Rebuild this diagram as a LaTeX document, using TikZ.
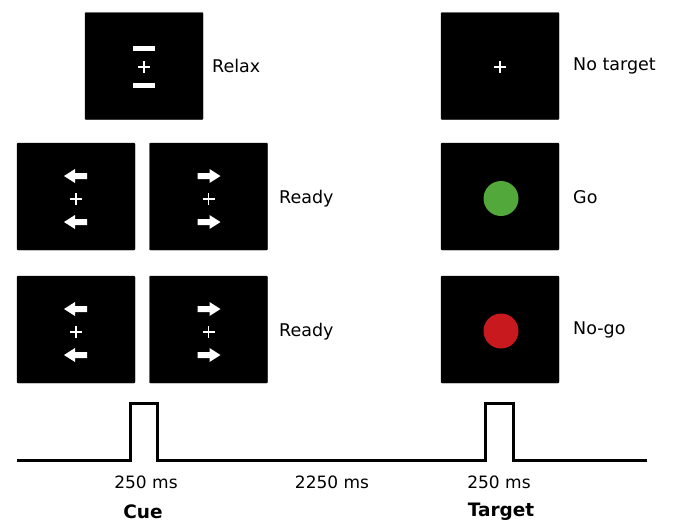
\documentclass[tikz,border=0pt]{standalone}
\usepackage{fontspec}
\setmainfont{DejaVu Sans}
\begin{document}
\begin{tikzpicture}[x=1pt,y=-1pt,
  screen/.style={fill=black,draw=black,rounded corners=1pt,minimum width=118pt,minimum height=107pt,inner sep=0pt},
  lbl/.style={anchor=west,inner sep=0pt,font=\fontsize{17.5}{20}\selectfont},
  tlbl/.style={inner sep=0pt,font=\fontsize{17}{20}\selectfont},
  ttl/.style={inner sep=0pt,font=\fontsize{18.5}{22}\selectfont\bfseries},
  larrow/.pic={\fill[white] (-12,0) -- (-1,-7) -- (-1,-3) -- (11,-3) -- (11,3) -- (-1,3) -- (-1,7) -- cycle;},
  rarrow/.pic={\fill[white] (12,0) -- (1,-7) -- (1,-3) -- (-11,-3) -- (-11,3) -- (1,3) -- (1,7) -- cycle;},
  fix/.pic={\draw[white,line width=1.7pt] (-6,0) -- (6,0) (0,-6) -- (0,6);},
  timeline/.style={line width=3pt,line join=miter}
]
\useasboundingbox (0,0) rectangle (676,522);
% cue screens
\node[screen] (relax) at (144,66) {};
\fill[white] (133,45.5) rectangle (155,50.5);
\fill[white] (133,82.5) rectangle (155,87.5);
\pic at (144,67) {fix};
\node[lbl] (relaxl) at (212,66) {Relax};

\node[screen] (r1a) at (76,196.5) {};
\node[screen] (r1b) at (208.5,196.5) {};
\pic at (76,176) {larrow};
\pic at (76,199) {fix};
\pic at (76,222) {larrow};
\pic at (208.5,176) {rarrow};
\pic at (208.5,199) {fix};
\pic at (208.5,222) {rarrow};
\node[lbl] (ready1) at (279,199) {Ready};

\node[screen] (r2a) at (76,329.5) {};
\node[screen] (r2b) at (208.5,329.5) {};
\pic at (76,309) {larrow};
\pic at (76,332) {fix};
\pic at (76,355) {larrow};
\pic at (208.5,309) {rarrow};
\pic at (208.5,332) {fix};
\pic at (208.5,355) {rarrow};
\node[lbl] (ready2) at (279,332) {Ready};

% target screens
\node[screen] (nt) at (500,66) {};
\pic at (500,67) {fix};
\node[lbl] (ntl) at (573,66) {No target};

\node[screen] (go) at (500,196.5) {};
\fill[fill={rgb,255:red,82;green,168;blue,58}] (501,198.5) circle (17.5);
\node[lbl] (gol) at (573,197) {Go};

\node[screen] (nogo) at (500,329.5) {};
\fill[fill={rgb,255:red,200;green,26;blue,30}] (501,331) circle (17.5);
\node[lbl] (nogol) at (573,330) {No-go};

% timeline
\draw[timeline] (17,460) -- (130,460) -- (130,403.5) -- (157,403.5) -- (157,460) -- (485,460) -- (485,403.5) -- (513,403.5) -- (513,460) -- (647,460);

\node[tlbl] (t1) at (146,482) {250 ms};
\node[tlbl] (t2) at (332,482) {2250 ms};
\node[tlbl] (t3) at (499,482) {250 ms};
\node[ttl] (cue) at (143,512) {Cue};
\node[ttl] (tgt) at (501,512) {Target};
\end{tikzpicture}
\end{document}
